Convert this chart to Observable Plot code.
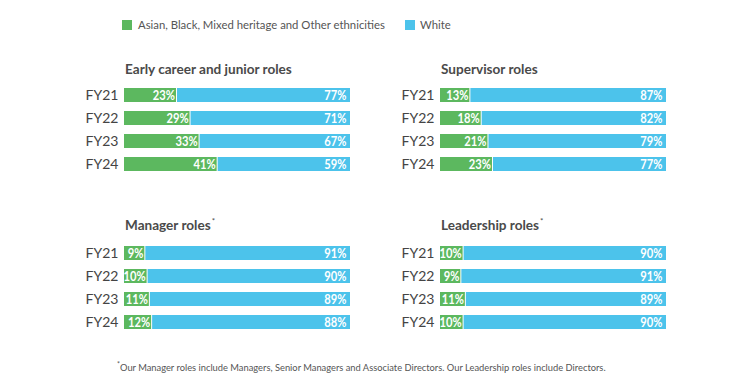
<!DOCTYPE html>
<html>
<head>
<meta charset="utf-8">
<script src="https://cdn.jsdelivr.net/npm/d3@7"></script>
<script src="https://cdn.jsdelivr.net/npm/@observablehq/plot@0.6"></script>
<style>
  html, body { margin: 0; padding: 0; background: #fff; }
  body { width: 750px; height: 385px; position: relative; font-family: Lato, "Open Sans", sans-serif; color: #444; }
  .abs { position: absolute; white-space: nowrap; }
  .legtext { top: 17px; font-size: 12px; color: #555; line-height: 16px; }
  .sw { top: 20px; width: 10px; height: 10px; }
  .title { font-size: 14px; font-weight: 700; color: #4a4a4a; }
  .title sup { font-size: 8px; font-weight: 400; margin-left: 1px; }
  .foot { top: 360px; font-size: 9.4px; color: #555; }
  .foot sup { font-size: 7px; }
  svg text { font-family: Lato, "Open Sans", sans-serif; }
</style>
</head>
<body>
<div id="root"></div>
<script>
const years = ["FY21", "FY22", "FY23", "FY24"];
const seriesNames = ["Asian, Black, Mixed heritage and Other ethnicities", "White"];
const colors = ["#5cb85f", "#4cc3eb"];

const titles = ["Early career and junior roles", "Supervisor roles", "Manager roles", "Leadership roles"];
const titleStars = [false, false, true, true];

const earlyMinority = [23, 29, 33, 41];
const earlyWhite = [77, 71, 67, 59];
const supervisorMinority = [13, 18, 21, 23];
const supervisorWhite = [87, 82, 79, 77];
const managerMinority = [9, 10, 11, 12];
const managerWhite = [91, 90, 89, 88];
const leadershipMinority = [10, 9, 11, 10];
const leadershipWhite = [90, 91, 89, 90];

const footnote = "Our Manager roles include Managers, Senior Managers and Associate Directors. Our Leadership roles include Directors.";

const panels = [
  {minority: earlyMinority, white: earlyWhite, left: 0, top: 78, h: 103, tTop: 61},
  {minority: supervisorMinority, white: supervisorWhite, left: 316, top: 78, h: 103, tTop: 61},
  {minority: managerMinority, white: managerWhite, left: 0, top: 234.5, h: 104.5, tTop: 216},
  {minority: leadershipMinority, white: leadershipWhite, left: 316, top: 234.5, h: 104.5, tTop: 216}
];

const root = document.getElementById("root");

function add(cls, html, left, top) {
  const el = document.createElement("div");
  el.className = "abs " + cls;
  el.innerHTML = html;
  el.style.left = left + "px";
  if (top != null) el.style.top = top + "px";
  root.appendChild(el);
  return el;
}
// scale font size so the element's width matches the reference width
function fitWidth(el, target) {
  const w = el.getBoundingClientRect().width;
  const fs = parseFloat(getComputedStyle(el).fontSize);
  const nfs = fs * target / w;
  el.style.fontSize = nfs + "px";
  return nfs;
}

// legend
const s1 = add("sw", "", 122); s1.style.background = colors[0];
const l1 = add("legtext", seriesNames[0], 138);
fitWidth(l1, 247);
const s2 = add("sw", "", 405); s2.style.background = colors[1];
const l2 = add("legtext", seriesNames[1], 420);
l2.style.fontSize = l1.style.fontSize;

let titleFs = null;
panels.forEach((p, i) => {
  const rows = years.map((y, j) => ({year: y, m: p.minority[j], w: p.white[j]}));
  const t = add("title", titles[i] + (titleStars[i] ? "<sup>*</sup>" : ""), p.left + 125, p.tTop);
  if (i === 0) titleFs = fitWidth(t, 167); else t.style.fontSize = titleFs + "px";

  const chart = Plot.plot({
    width: 360,
    height: p.h,
    marginLeft: 124,
    marginRight: 10,
    marginTop: 0,
    marginBottom: 0,
    style: {fontSize: "14px", color: "#444", background: "transparent", overflow: "visible"},
    x: {domain: [0, 100], axis: null},
    y: {domain: years, padding: 0.375, label: null, tickSize: 0, tickPadding: 6},
    marks: [
      Plot.barX(rows, {y: "year", x1: 0, x2: "m", fill: colors[0]}),
      Plot.barX(rows, {y: "year", x1: "m", x2: 100, fill: colors[1], insetLeft: 1}),
      Plot.text(rows, {y: "year", x: "m", text: d => d.m + "%", textAnchor: "end", dx: -1.5, fill: "white", fontWeight: "bold", fontSize: 13, className: "val"}),
      Plot.text(rows, {y: "year", x: 100, text: d => d.w + "%", textAnchor: "end", dx: -4, fill: "white", fontWeight: "bold", fontSize: 13, className: "val"})
    ]
  });
  chart.classList.add("abs");
  chart.style.left = p.left + "px";
  chart.style.top = p.top + "px";
  root.appendChild(chart);
  // condense the value labels (narrow typeface look)
  chart.querySelectorAll("g.val text").forEach(el => {
    const len = el.getComputedTextLength();
    el.setAttribute("textLength", (len * 0.86).toFixed(2));
    el.setAttribute("lengthAdjust", "spacingAndGlyphs");
  });
});

const f = add("foot", "<sup>*</sup>" + footnote, 117);
fitWidth(f, 488);
</script>
</body>
</html>
